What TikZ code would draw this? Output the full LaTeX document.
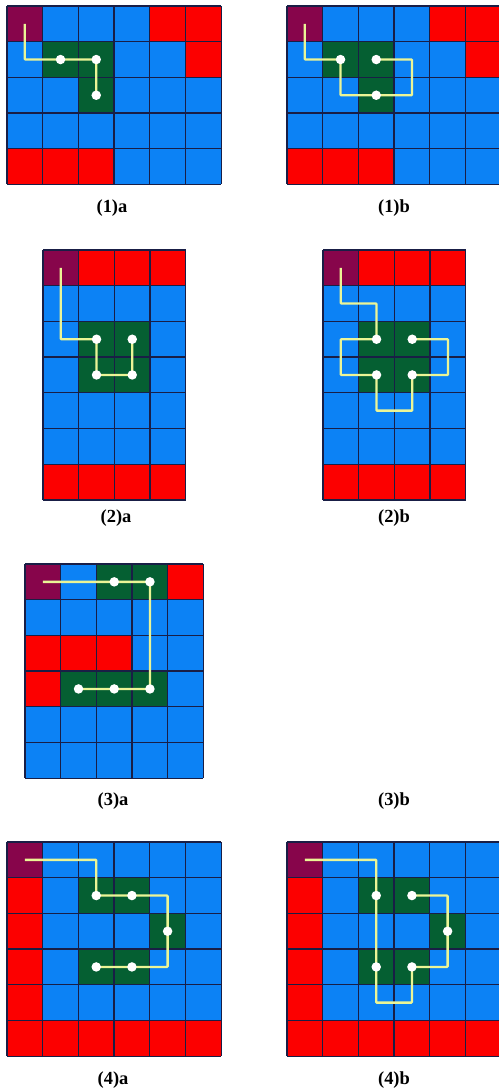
\documentclass[tikz,border=0pt]{standalone}
\usepackage{fontspec}
\setmainfont{Liberation Serif}
\definecolor{CellBlue}  {RGB}{12,130,245}
\definecolor{CellRed}   {RGB}{252,0,0}
\definecolor{CellPurple}{RGB}{135,5,75}
\definecolor{CellGreen} {RGB}{5,95,50}
\definecolor{GridLine}  {RGB}{25,30,70}
\definecolor{RouteYellow}{RGB}{235,245,150}

% one cell of a panel, counted from the top left
\newcommand{\paintcell}[3]{\fill[#1] (#2,#3) rectangle ++(1,1);}
% blue field with its grid lines drawn on top later
\newcommand{\blueboard}[2]{\fill[CellBlue] (0,0) rectangle (#1,#2);}
\newcommand{\boardlines}[2]{%
  \foreach \i in {0,...,#1} \draw[gridline] (\i,0) -- (\i,#2);
  \foreach \j in {0,...,#2} \draw[gridline] (0,\j) -- (#1,\j);}

\begin{document}
\begin{tikzpicture}[x=0.02cm,y=-0.02cm,
  board/.style={x=0.714cm,y=-0.714cm},
  gridline/.style={draw=GridLine,line width=0.75pt},
  route/.style={draw=RouteYellow,line width=1.3pt,rounded corners=0.4pt},
  dot/.style={circle,fill=white,inner sep=0pt,minimum size=0.19cm},
  caption/.style={font=\fontsize{10.5}{12}\selectfont\bfseries}]
  \useasboundingbox[fill=white] (0,0) rectangle (499,1090);

  % (1)a
  \begin{scope}[shift={(7,6)},board]
    \blueboard{6}{5}
    \paintcell{CellPurple}{0}{0}
    \foreach \c/\r in {4/0,5/0,5/1,0/4,1/4,2/4} \paintcell{CellRed}{\c}{\r}
    \foreach \c/\r in {1/1,2/1,2/2} \paintcell{CellGreen}{\c}{\r}
    \boardlines{6}{5}
    \coordinate (A0) at (0.5,0.5);
    \coordinate (A1) at (1.5,1.5);
    \coordinate (A2) at (2.5,1.5);
    \coordinate (A3) at (2.5,2.5);
    \draw[route] (A0) |- (A1) -- (A2) -- (A3);
    \foreach \n in {A1,A2,A3} \node[dot] at (\n) {};
  \end{scope}
  \node[caption] (capA) at (112,208) {(1)a};

  % (1)b
  \begin{scope}[shift={(287,6)},board]
    \blueboard{6}{5}
    \paintcell{CellPurple}{0}{0}
    \foreach \c/\r in {4/0,5/0,5/1,0/4,1/4,2/4} \paintcell{CellRed}{\c}{\r}
    \foreach \c/\r in {1/1,2/1,2/2} \paintcell{CellGreen}{\c}{\r}
    \boardlines{6}{5}
    \coordinate (B0) at (0.5,0.5);
    \coordinate (B1) at (1.5,1.5);
    \coordinate (B2) at (2.5,2.5);
    \coordinate (B3) at (2.5,1.5);
    \draw[route] (B0) |- (B1) |- (B2) -- (3.5,2.5) |- (B3);
    \foreach \n in {B1,B2,B3} \node[dot] at (\n) {};
  \end{scope}
  \node[caption] (capB) at (394,208) {(1)b};

  % (2)a
  \begin{scope}[shift={(43,250)},board]
    \blueboard{4}{7}
    \paintcell{CellPurple}{0}{0}
    \foreach \c/\r in {1/0,2/0,3/0,0/6,1/6,2/6,3/6} \paintcell{CellRed}{\c}{\r}
    \foreach \c/\r in {1/2,2/2,1/3,2/3} \paintcell{CellGreen}{\c}{\r}
    \boardlines{4}{7}
    \coordinate (C0) at (0.5,0.5);
    \coordinate (C1) at (1.5,2.5);
    \coordinate (C2) at (1.5,3.5);
    \coordinate (C3) at (2.5,3.5);
    \coordinate (C4) at (2.5,2.5);
    \draw[route] (C0) |- (C1) -- (C2) -- (C3) -- (C4);
    \foreach \n in {C1,C2,C3,C4} \node[dot] at (\n) {};
  \end{scope}
  \node[caption] (capC) at (116,518) {(2)a};

  % (2)b
  \begin{scope}[shift={(323,250)},board]
    \blueboard{4}{7}
    \paintcell{CellPurple}{0}{0}
    \foreach \c/\r in {1/0,2/0,3/0,0/6,1/6,2/6,3/6} \paintcell{CellRed}{\c}{\r}
    \foreach \c/\r in {1/2,2/2,1/3,2/3} \paintcell{CellGreen}{\c}{\r}
    \boardlines{4}{7}
    \coordinate (D0) at (0.5,0.5);
    \coordinate (D1) at (1.5,2.5);
    \coordinate (D2) at (1.5,3.5);
    \coordinate (D3) at (2.5,3.5);
    \coordinate (D4) at (2.5,2.5);
    \draw[route] (D0) -- (0.5,1.5) -| (D1) -- (0.5,2.5) |- (D2)
      -- (1.5,4.5) -| (D3) -- (3.5,3.5) |- (D4);
    \foreach \n in {D1,D2,D3,D4} \node[dot] at (\n) {};
  \end{scope}
  \node[caption] (capD) at (394,518) {(2)b};

  % (3)a
  \begin{scope}[shift={(25,564)},board]
    \blueboard{5}{6}
    \paintcell{CellPurple}{0}{0}
    \foreach \c/\r in {4/0,0/2,1/2,2/2,0/3} \paintcell{CellRed}{\c}{\r}
    \foreach \c/\r in {2/0,3/0,1/3,2/3,3/3} \paintcell{CellGreen}{\c}{\r}
    \boardlines{5}{6}
    \coordinate (E0) at (0.5,0.5);
    \coordinate (E1) at (2.5,0.5);
    \coordinate (E2) at (3.5,0.5);
    \coordinate (E3) at (3.5,3.5);
    \coordinate (E4) at (2.5,3.5);
    \coordinate (E5) at (1.5,3.5);
    \draw[route] (E0) -- (E1) -- (E2) -- (E3) -- (E4) -- (E5);
    \foreach \n in {E1,E2,E3,E4,E5} \node[dot] at (\n) {};
  \end{scope}
  \node[caption] (capE) at (113,801) {(3)a};
  \node[caption] (capF) at (394,801) {(3)b};

  % (4)a
  \begin{scope}[shift={(7,842)},board]
    \blueboard{6}{6}
    \paintcell{CellPurple}{0}{0}
    \foreach \r in {1,...,5} \paintcell{CellRed}{0}{\r}
    \foreach \c in {1,...,5} \paintcell{CellRed}{\c}{5}
    \foreach \c/\r in {2/1,3/1,4/2,2/3,3/3} \paintcell{CellGreen}{\c}{\r}
    \boardlines{6}{6}
    \coordinate (G0) at (0.5,0.5);
    \coordinate (G1) at (2.5,1.5);
    \coordinate (G2) at (3.5,1.5);
    \coordinate (G3) at (4.5,2.5);
    \coordinate (G4) at (3.5,3.5);
    \coordinate (G5) at (2.5,3.5);
    \draw[route] (G0) -| (G1) -- (G2) -| (G3) |- (G4) -- (G5);
    \foreach \n in {G1,G2,G3,G4,G5} \node[dot] at (\n) {};
  \end{scope}
  \node[caption] (capG) at (113,1080) {(4)a};

  % (4)b
  \begin{scope}[shift={(287,842)},board]
    \blueboard{6}{6}
    \paintcell{CellPurple}{0}{0}
    \foreach \r in {1,...,5} \paintcell{CellRed}{0}{\r}
    \foreach \c in {1,...,5} \paintcell{CellRed}{\c}{5}
    \foreach \c/\r in {2/1,3/1,4/2,2/3,3/3} \paintcell{CellGreen}{\c}{\r}
    \boardlines{6}{6}
    \coordinate (H0) at (0.5,0.5);
    \coordinate (H1) at (2.5,1.5);
    \coordinate (H2) at (2.5,3.5);
    \coordinate (H3) at (3.5,3.5);
    \coordinate (H4) at (4.5,2.5);
    \coordinate (H5) at (3.5,1.5);
    \draw[route] (H0) -| (H1) -- (H2) -- (2.5,4.5) -| (H3) -| (H4)
      |- (H5);
    \foreach \n in {H1,H2,H3,H4,H5} \node[dot] at (\n) {};
  \end{scope}
  \node[caption] (capH) at (394,1080) {(4)b};
\end{tikzpicture}
\end{document}
